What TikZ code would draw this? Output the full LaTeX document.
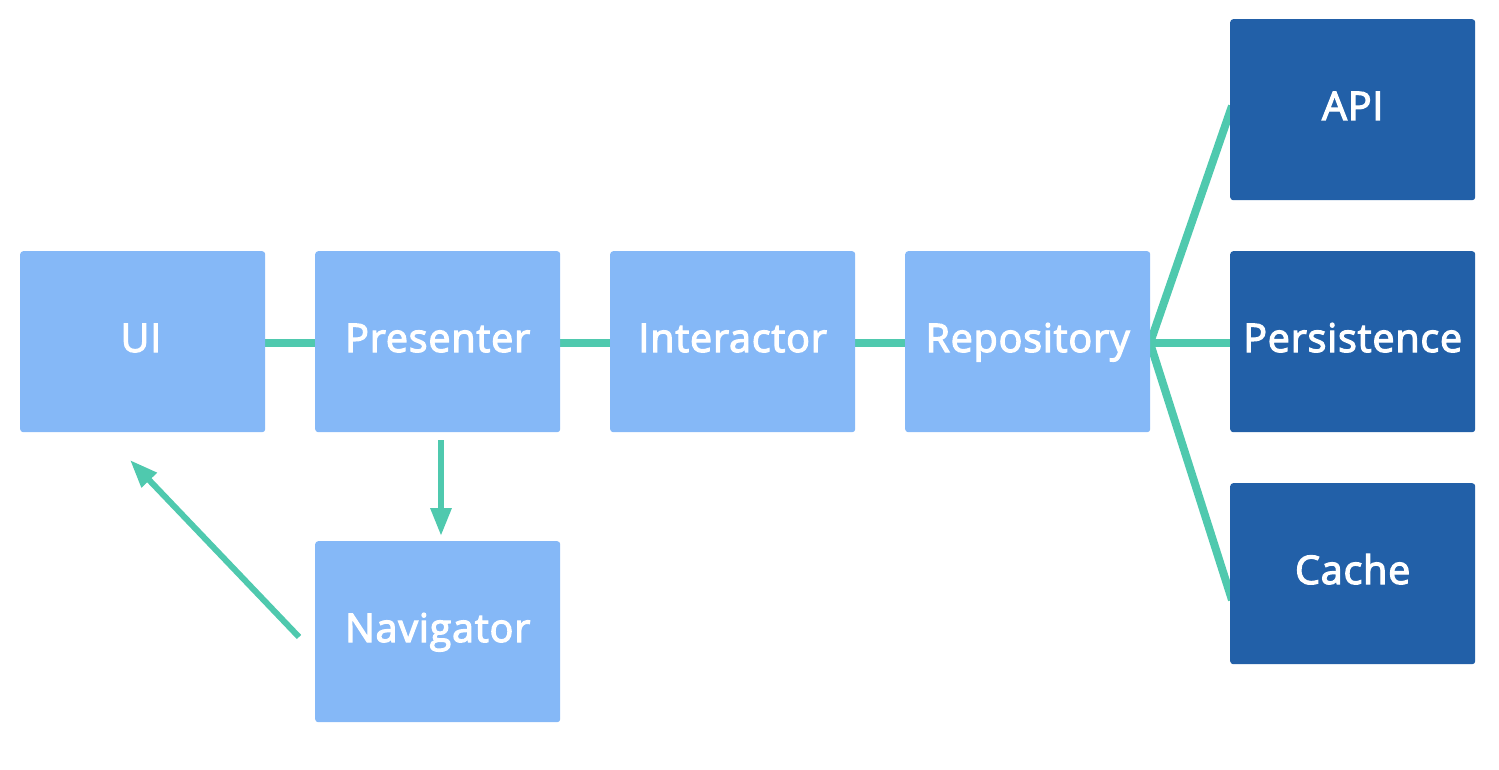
\documentclass[tikz,border=0pt]{standalone}
\usepackage{fontspec}
\setmainfont{Open Sans}
\newfontfamily\semibf[FakeBold=3,LetterSpace=2]{Open Sans}
\usetikzlibrary{arrows.meta}
\pgfdeclarelayer{bg}
\pgfsetlayers{bg,main}
\definecolor{lightbox}{HTML}{85B8F7}
\definecolor{darkbox}{HTML}{2260A8}
\definecolor{conn}{HTML}{4FC9AE}
\begin{document}
\begin{tikzpicture}[x=1pt,y=-1pt,
  box/.style={fill=lightbox, rounded corners=3pt, minimum width=245pt, minimum height=181pt, inner sep=0pt, anchor=north west},
  dbox/.style={box, fill=darkbox},
  lbl/.style={text=white, font=\fontsize{39.5}{42}\semibf, anchor=base, inner sep=0pt},
  link/.style={draw=conn, line width=8pt},
  arr/.style={draw=conn, line width=6pt, -{Triangle[length=28pt,width=20pt]}}]
\useasboundingbox (0,0) rectangle (1499,770);
\node[box] (ui) at (20,251) {};
\node[box] (pres) at (315,251) {};
\node[box] (inter) at (610,251) {};
\node[box] (repo) at (905,251) {};
\node[box] (nav) at (315,541) {};
\node[dbox] (api) at (1230,19) {};
\node[dbox] (pers) at (1230,251) {};
\node[dbox] (cache) at (1230,483) {};
\node[lbl] at (141,352) {UI};
\node[lbl] at (pres.north |- 0,352) {Presenter};
\node[lbl] at (inter.north |- 0,352) {Interactor};
\node[lbl] at (repo.north |- 0,352) {Repository};
\node[lbl] at (nav.north |- 0,642) {Navigator};
\node[lbl] at (api.north |- 0,120) {API};
\node[lbl] at (pers.north |- 0,352) {Persistence};
\node[lbl] at (cache.north |- 0,584) {Cache};
\coordinate (j) at (1150,343);
\begin{pgfonlayer}{bg}
\draw[link] (ui.east |- 0,343) -- (pres.west |- 0,343);
\draw[link] (pres.east |- 0,343) -- (inter.west |- 0,343);
\draw[link] (inter.east |- 0,343) -- (repo.west |- 0,343);
\draw[link] (j) -- ([xshift=4pt]pers.west |- 0,343);
\draw[link] (j) -- ([xshift=2pt]api.west |- 0,106);
\draw[link] (j) -- ([xshift=2pt]cache.west |- 0,600);
\end{pgfonlayer}
\coordinate (a1) at (441,440);
\coordinate (a2) at (441,536);
\draw[arr] (a1) -- (a2);
\coordinate (b1) at (299,637);
\coordinate (b2) at (130,460);
\draw[arr] (b1) -- (b2);
\end{tikzpicture}
\end{document}
